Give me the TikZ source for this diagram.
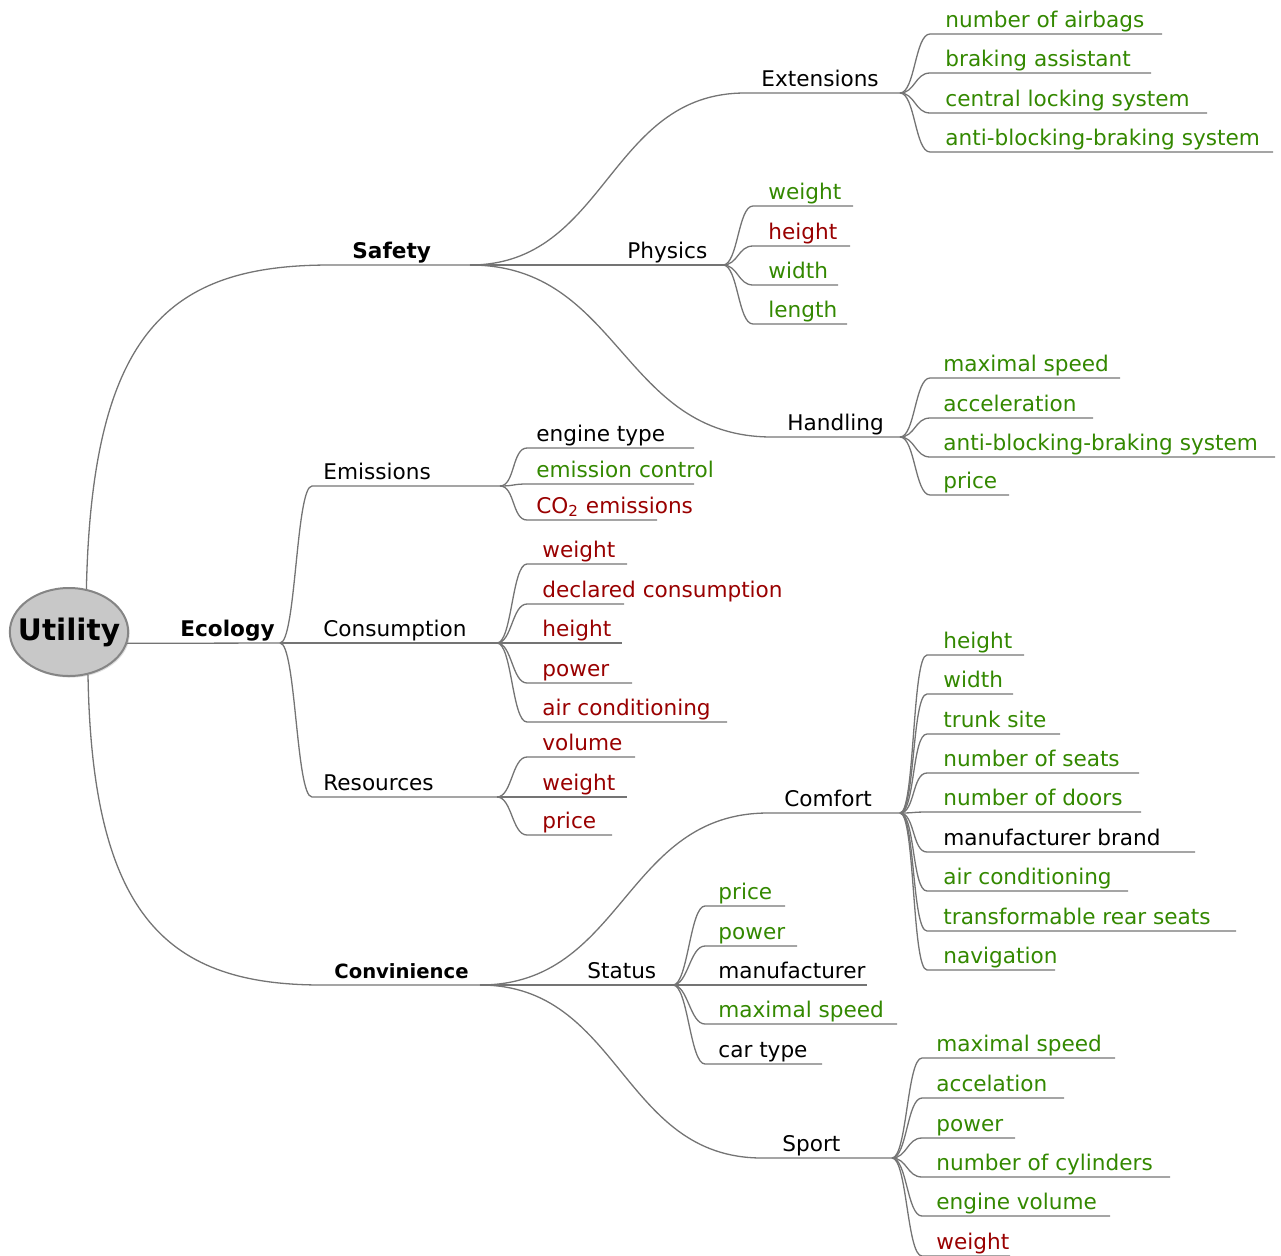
\documentclass[tikz,border=0pt]{standalone}
\usepackage{fontspec}
\setmainfont{DejaVu Sans}
\usetikzlibrary{shapes.geometric,shadows}

\definecolor{leafgreen}{HTML}{338800}
\definecolor{leafred}{HTML}{990000}
\definecolor{edgegray}{HTML}{747474}
\definecolor{rootfill}{HTML}{C8C8C8}
\definecolor{rootline}{HTML}{858585}

% leaves hanging off one fork: parent point, name prefix, line start, text x, list
\newcommand{\forkleaves}[5]{%
  \foreach \n/\y/\xe/\col/\txt in {#5}{
    \coordinate (#2\n-l) at (#3,\y);
    \coordinate (#2\n-r) at (\xe,\y);
    \node[leaf, text=\col] (#2\n) at (#4,{\y-7}) {\txt};
    \draw[edge] (#1) .. controls +(15,0) and +(-15,0) .. (#2\n-l) -- (#2\n-r);
  }}

\begin{document}
\begin{tikzpicture}[x=0.5pt, y=-0.5pt,
  edge/.style={draw=edgegray, line width=0.65pt},
  leaf/.style={anchor=base west, inner sep=0pt, font=\fontsize{10.8}{13}\selectfont},
  mainbranch/.style={leaf, font=\fontsize{10.8}{13}\selectfont\bfseries},
  rootnode/.style={ellipse, draw=rootline, line width=1pt, fill=rootfill,
    minimum width=59pt, minimum height=44pt, inner xsep=-4.6pt, inner ysep=0pt,
    font=\fontsize{14.8}{17}\selectfont\bfseries,
    drop shadow={opacity=0.25, shadow xshift=0.8pt, shadow yshift=-0.8pt}}]

\useasboundingbox (0,0) rectangle (1281,1255);

% Root
\node[rootnode] (utility) at (69,632) {Utility};

% First level
\coordinate (safety-l) at (330,265);
\coordinate (safety-r) at (470,265);
\node[mainbranch] (safety) at (352,258) {Safety};
\draw[edge] (utility.68) .. controls (92,330) and (170,265) .. (safety-l) -- (safety-r);

\coordinate (ecology-r) at (280,643);
\node[mainbranch] (ecology) at (180,636) {Ecology};
\draw[edge] (utility.-11) -- (ecology-r);

\coordinate (convinience-l) at (322,985);
\coordinate (convinience-r) at (480,985);
\node[leaf, font=\fontsize{9.8}{12}\selectfont\bfseries] (convinience) at (334,978) {Convinience};
\draw[edge] (utility.-66) .. controls (92,920) and (170,985) .. (convinience-l) -- (convinience-r);

% Second level: Safety
\coordinate (extensions-l) at (745,93);
\coordinate (extensions-r) at (900,93);
\node[leaf] (extensions) at (761,86) {Extensions};
\draw[edge] (safety-r) .. controls +(137,0) and +(-137,0) .. (extensions-l) -- (extensions-r);

\coordinate (physics-r) at (723,265);
\node[leaf] (physics) at (627,258) {Physics};
\draw[edge] (safety-r) -- (physics-r);

\coordinate (handling-l) at (772,437);
\coordinate (handling-r) at (900,437);
\node[leaf] (handling) at (787,430) {Handling};
\draw[edge] (safety-r) .. controls +(151,0) and +(-151,0) .. (handling-l) -- (handling-r);

% Second level: Ecology
\coordinate (emissions-l) at (312,486);
\coordinate (emissions-r) at (500,486);
\node[leaf] (emissions) at (323,479) {Emissions};
\draw[edge] (ecology-r) .. controls +(16,0) and +(-16,0) .. (emissions-l) -- (emissions-r);

\coordinate (consumption-r) at (497,643);
\node[leaf] (consumption) at (323,636) {Consumption};
\draw[edge] (ecology-r) -- (consumption-r);

\coordinate (resources-l) at (312,797);
\coordinate (resources-r) at (497,797);
\node[leaf] (resources) at (323,790) {Resources};
\draw[edge] (ecology-r) .. controls +(16,0) and +(-16,0) .. (resources-l) -- (resources-r);

% Second level: Convinience
\coordinate (comfort-l) at (768,813);
\coordinate (comfort-r) at (900,813);
\node[leaf] (comfort) at (784,806) {Comfort};
\draw[edge] (convinience-r) .. controls +(144,0) and +(-144,0) .. (comfort-l) -- (comfort-r);

\coordinate (status-r) at (673,985);
\node[leaf] (status) at (587,978) {Status};
\draw[edge] (convinience-r) -- (status-r);

\coordinate (sport-l) at (762,1158);
\coordinate (sport-r) at (892,1158);
\node[leaf] (sport) at (782,1151) {Sport};
\draw[edge] (convinience-r) .. controls +(141,0) and +(-141,0) .. (sport-l) -- (sport-r);

% Leaves
\forkleaves{extensions-r}{ext}{930}{945}{
  1/34/1162/leafgreen/number of airbags,
  2/73/1151/leafgreen/braking assistant,
  3/113/1207/leafgreen/central locking system,
  4/152/1273/leafgreen/anti-blocking-braking system}

\forkleaves{physics-r}{phy}{753}{768}{
  1/206/853/leafgreen/weight,
  2/246/850/leafred/height,
  3/285/838/leafgreen/width,
  4/324/847/leafgreen/length}

\forkleaves{handling-r}{han}{930}{943}{
  1/378/1120/leafgreen/maximal speed,
  2/418/1093/leafgreen/acceleration,
  3/457/1275/leafgreen/anti-blocking-braking system,
  4/495/1009/leafgreen/price}

\forkleaves{emissions-r}{emi}{527}{536}{
  1/448/694/black/engine type,
  2/484/694/leafgreen/emission control,
  3/520/657/leafred/{CO\textsubscript{2} emissions}}

\forkleaves{consumption-r}{con}{527}{542}{
  1/564/627/leafred/weight,
  2/604/624/leafred/declared consumption,
  3/643/622/leafred/height,
  4/683/632/leafred/power,
  5/722/727/leafred/air conditioning}

\forkleaves{resources-r}{res}{527}{542}{
  1/757/635/leafred/volume,
  2/797/627/leafred/weight,
  3/835/612/leafred/price}

\forkleaves{comfort-r}{com}{927}{943}{
  1/655/1024/leafgreen/height,
  2/694/1013/leafgreen/width,
  3/734/1060/leafgreen/trunk site,
  4/773/1139/leafgreen/number of seats,
  5/812/1141/leafgreen/number of doors,
  6/852/1195/black/manufacturer brand,
  7/891/1128/leafgreen/air conditioning,
  8/931/1236/leafgreen/transformable rear seats,
  9/970/1055/leafgreen/navigation}

\forkleaves{status-r}{sta}{705}{718}{
  1/906/785/leafgreen/price,
  2/946/797/leafgreen/power,
  3/985/867/black/manufacturer,
  4/1024/897/leafgreen/maximal speed,
  5/1064/822/black/car type}

\forkleaves{sport-r}{spo}{922}{936}{
  1/1058/1115/leafgreen/maximal speed,
  2/1098/1064/leafgreen/accelation,
  3/1138/1015/leafgreen/power,
  4/1177/1170/leafgreen/number of cylinders,
  5/1216/1110/leafgreen/engine volume,
  6/1256/1010/leafred/weight}

\end{tikzpicture}
\end{document}
